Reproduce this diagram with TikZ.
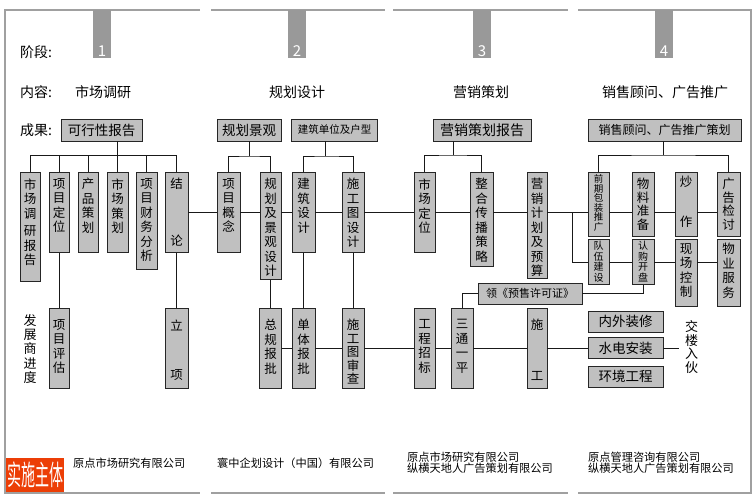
\documentclass[tikz,border=0pt]{standalone}
\usepackage{fontspec}
\setmainfont{Noto Sans CJK SC}
\usepackage{graphicx}
\usepackage{tikz}
\usetikzlibrary{positioning}
\usepackage{xcolor}

\definecolor{boxgray}{RGB}{192,192,192}
\definecolor{framegray}{RGB}{160,160,160}
\definecolor{tabgray}{RGB}{153,153,153}
\definecolor{tagred}{RGB}{236,62,6}

%one character per line, top aligned in a box of given size
\newcommand{\colchars}[4][6]{\parbox[t][#3pt][t]{#2pt}{\centering\vspace*{#1pt}#4}}

\begin{document}
\begin{tikzpicture}[x=1pt,y=-1pt,
  frame/.style={draw=framegray,line width=1.3pt},
  link/.style={draw=black!90,line width=0.9pt},
  vbox/.style={draw=black!85,fill=boxgray,line width=0.9pt,inner sep=0pt,anchor=north,font=\fontsize{12.5}{14.5}\selectfont},
  hbox/.style={draw=black!85,fill=boxgray,line width=0.9pt,inner sep=0pt,minimum height=22pt},
  rowlabel/.style={anchor=west,inner sep=0pt,font=\fontsize{14}{16}\selectfont},
  firm/.style={anchor=west,inner sep=0pt,align=left,font=\fontsize{11.2}{11}\selectfont}]
        \useasboundingbox (0,0) rectangle (755,498);

        %draw the four stage frames
        \draw[frame] (200,10) -- (5,10) -- (5,493) -- (200,493);
        \draw[frame] (211,10) -- (385,10);
        \draw[frame] (211,493) -- (385,493);
        \draw[frame] (393,10) -- (568,10);
        \draw[frame] (393,493) -- (568,493);
        \draw[frame] (578,10) -- (751,10) -- (751,493) -- (578,493);
        \foreach \x/\n in {93/1,288/2,473/3,655/4}{
        \fill[tabgray] (\x,10) rectangle ++(18,48);
        \node[text=white,inner sep=0pt,font=\fontsize{15}{15}\selectfont] (tab\n) at (\x+9,51) {\n};
        }

        %row labels and stage titles
        \node[rowlabel] (stageLbl) at (20,52) {阶段:};
        \node[rowlabel] (workLbl) at (20,92) {内容:};
        \node[rowlabel] (outLbl) at (20,130) {成果:};
        \node[rowlabel] (work1) at (75,92) {市场调研};
        \node[rowlabel,anchor=center] (work2) at (297,92) {规划设计};
        \node[rowlabel,anchor=center] (work3) at (481,92) {营销策划};
        \node[rowlabel,anchor=center] (work4) at (665,92) {销售顾问、广告推广};

        %result boxes
        \node[hbox,minimum width=81pt,font=\fontsize{13.5}{14}\selectfont] (feasRpt) at (101.5,130) {可行性报告};
        \node[hbox,minimum width=64pt,font=\fontsize{13.5}{14}\selectfont] (planRpt) at (249,130) {规划景观};
        \node[hbox,minimum width=86pt,font=\fontsize{10.5}{11}\selectfont] (archRpt) at (334.5,130) {建筑单位及户型};
        \node[hbox,minimum width=98pt,font=\fontsize{14}{14}\selectfont] (mktRpt) at (482,130) {营销策划报告};
        \node[hbox,minimum width=153pt,font=\fontsize{12}{12}\selectfont] (saleRpt) at (664.5,130) {销售顾问、广告推广策划};

        %stage 1
        \node[vbox] (s1a) at (30,172) {\colchars{20}{109}{市\\场\\调\\[3pt]研\\报\\告}};
        \node[vbox] (s1b) at (59,172) {\colchars{20}{80}{项\\目\\定\\位}};
        \node[vbox] (s1c) at (88,172) {\colchars{20}{80}{产\\品\\策\\划}};
        \node[vbox] (s1d) at (117.5,172) {\colchars{21}{80}{市\\场\\策\\划}};
        \node[vbox] (s1e) at (146.5,172) {\colchars{21}{97}{项\\目\\财\\务\\分\\析}};
        \node[vbox] (s1f) at (176.5,172) {\colchars{23}{80}{结\\[42pt]论}};
        \node[vbox] (s1g) at (59,308) {\colchars[11]{20}{80}{项\\目\\评\\估}};
        \node[vbox] (s1h) at (176.5,308) {\colchars[11]{23}{80}{立\\[35pt]项}};
        \node[align=center,inner sep=0pt,font=\fontsize{13}{14.25}\selectfont] (devLbl) at (30,349) {发\\展\\商\\进\\度};

        %stage 2
        \node[vbox] (s2a) at (228.5,172) {\colchars{23}{80}{项\\目\\概\\念}};
        \node[vbox] (s2b) at (270.5,172) {\colchars{21}{107}{规\\划\\及\\景\\观\\设\\计}};
        \node[vbox] (s2c) at (303.5,172) {\colchars{23}{80}{建\\筑\\设\\计}};
        \node[vbox] (s2d) at (353,172) {\colchars{22}{80}{施\\工\\图\\设\\计}};
        \node[vbox] (s2e) at (270.5,308) {\colchars[11]{22}{80}{总\\规\\报\\批}};
        \node[vbox] (s2f) at (303.5,308) {\colchars[11]{23}{80}{单\\体\\报\\批}};
        \node[vbox] (s2g) at (353,308) {\colchars[11]{22}{80}{\fontsize{12.5}{13.5}\selectfont 施\\工\\图\\审\\查}};

        %stage 3
        \node[vbox] (s3a) at (424.5,172) {\colchars{21}{80}{市\\场\\定\\位}};
        \node[vbox] (s3b) at (481.5,172) {\colchars{23}{94}{整\\合\\传\\播\\策\\略}};
        \node[vbox] (s3c) at (537,172) {\colchars{20}{106}{营\\销\\计\\划\\及\\预\\算}};
        \node[vbox] (s3d) at (424.5,308) {\colchars[11]{21}{80}{工\\程\\招\\标}};
        \node[vbox] (s3e) at (462,308) {\colchars[11]{22}{80}{三\\通\\一\\平}};
        \node[vbox] (s3f) at (537,308) {\colchars[11]{20}{80}{施\\[36pt]工}};
        \node[hbox,minimum width=104pt,minimum height=21pt,font=\fontsize{11}{11}\selectfont] (permit) at (530,293.5) {领《预售许可证》};

        %stage 4
        \node[vbox] (s4a) at (598.5,172) {\colchars[2]{21}{64}{\fontsize{9.5}{9.6}\selectfont 前\\期\\包\\装\\推\\广}};
        \node[vbox] (s4b) at (643,172) {\colchars{22}{64}{\fontsize{12.5}{13.5}\selectfont 物\\料\\准\\备}};
        \node[vbox] (s4c) at (686,172) {\colchars[4]{22}{64}{炒\\[25pt]作}};
        \node[vbox] (s4d) at (728.5,172) {\colchars{23}{64}{\fontsize{12.5}{13.5}\selectfont 广\\告\\检\\讨}};
        \node[vbox] (s4e) at (598.5,239) {\colchars[2]{21}{45}{\fontsize{10}{10.5}\selectfont 队\\伍\\建\\设}};
        \node[vbox] (s4f) at (643,239) {\colchars[2]{22}{45}{\fontsize{10}{10.5}\selectfont 认\\购\\开\\盘}};
        \node[vbox] (s4g) at (686,239) {\colchars[4]{22}{67}{现\\场\\控\\制}};
        \node[vbox] (s4h) at (728.5,239) {\colchars[4]{23}{67}{物\\业\\服\\务}};
        \node[hbox,minimum width=75pt,minimum height=21pt,font=\fontsize{13.5}{14}\selectfont] (deco) at (625.5,321.5) {内外装修};
        \node[hbox,minimum width=75pt,minimum height=21pt,font=\fontsize{13.5}{14}\selectfont] (elec) at (625.5,348) {水电安装};
        \node[hbox,minimum width=75pt,minimum height=21pt,font=\fontsize{13.5}{14}\selectfont] (envi) at (625.5,376.5) {环境工程};
        \node[align=center,inner xsep=6pt,inner ysep=0pt,font=\fontsize{13}{13.7}\selectfont] (handover) at (691.5,347) {交\\楼\\入\\伙};

        %trees under the result boxes
        \coordinate (j1) at (117.5,155);
        \coordinate (j2a) at (249.5,156);
        \coordinate (j2b) at (325,156);
        \coordinate (j3) at (453,155);
        \coordinate (j4) at (663.5,155);
        \draw[link] (j1 |- feasRpt.south) -- (j1);
        \draw[link] (s1a |- j1) -- (s1f |- j1);
        \foreach \n in {s1a,s1b,s1c,s1d,s1e,s1f}
        \draw[link] (\n |- j1) -- (\n.north);
        \draw[link] (j2a |- planRpt.south) -- (j2a);
        \draw[link] (s2a.north) |- (j2a) -| (s2b.north);
        \draw[link] (j2b |- archRpt.south) -- (j2b);
        \draw[link] (s2c.north) |- (j2b) -| (s2d.north);
        \draw[link] (j3 |- mktRpt.south) -- (j3);
        \draw[link] (s3a.north) |- (j3) -| (s3b.north);
        \draw[link] (j4 |- saleRpt.south) -- (j4);
        \draw[link] (s4a.north) |- (j4) -| (s4d.north);

        %upper chain
        \coordinate (mainU) at (0,212);
        \foreach \a/\b in {s1f/s2a,s2a/s2b,s2b/s2c,s2c/s2d,s2d/s3a,s3a/s3b,s3b/s3c,s3c/s4a,s4a/s4b,s4b/s4c,s4c/s4d}
        \draw[link] (\a.east |- mainU) -- (\b.west |- mainU);
        \coordinate (fork) at (572,212);
        \draw[link] (fork) |- (s4e.west);
        \foreach \a/\b in {s4e/s4f,s4f/s4g,s4g/s4h}
        \draw[link] (\a.east |- s4e.west) -- (\b.west |- s4e.west);

        %drops and lower chain
        \draw[link] (s1b) -- (s1g);
        \draw[link] (s1f) -- (s1h);
        \draw[link] (s2b) -- (s2e);
        \draw[link] (s2c) -- (s2f);
        \draw[link] (s2d) -- (s2g);
        \foreach \a/\b in {s2e/s2f,s2f/s2g,s2g/s3d,s3d/s3e,s3e/s3f,s3f/elec,elec/handover}
        \draw[link] (\a.east |- elec) -- (\b.west |- elec);
        \draw[link] (s3e.north) |- (permit.west);
        \draw[link] (permit.east) -| (s4f.south);

        %firms
        \node[fill=tagred,text=white,minimum width=58pt,minimum height=34pt,inner sep=0pt] (tag) at (35,475) {\scalebox{0.7}[1.4]{\fontsize{20}{20}\selectfont 实施主体}};
        \node[firm] (firm1) at (73,463) {原点市场研究有限公司};
        \node[firm] (firm2) at (217,463) {寰中企划设计（中国）有限公司};
        \node[firm] (firm3) at (407,462.5) {原点市场研究有限公司\\纵横天地人广告策划有限公司};
        \node[firm] (firm4) at (588,462.5) {原点管理咨询有限公司\\纵横天地人广告策划有限公司};
\end{tikzpicture}
\end{document}
